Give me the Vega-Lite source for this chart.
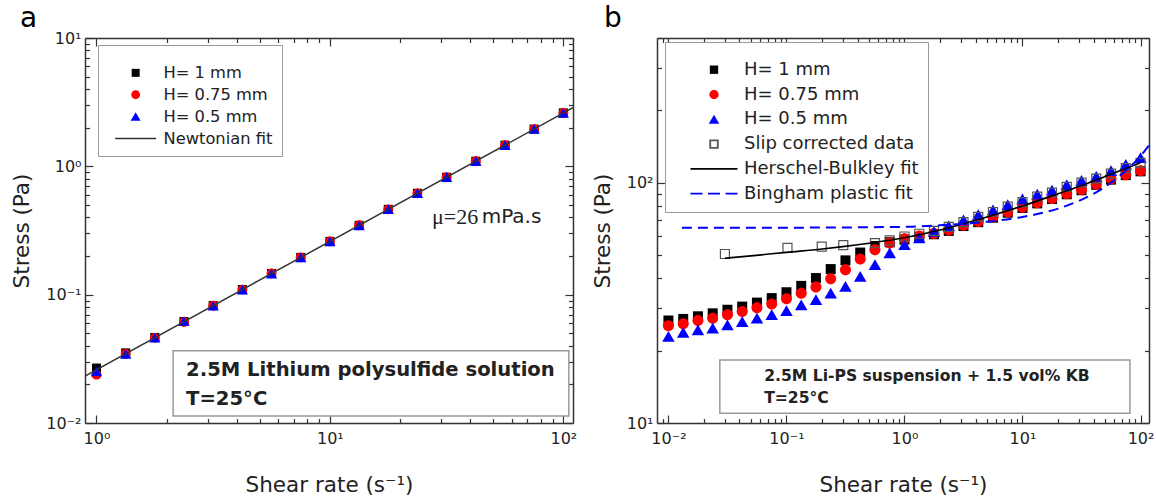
{
  "$schema": "https://vega.github.io/schema/vega-lite/v6.json",
  "padding": {"left": 11, "top": 5, "right": 0, "bottom": 0},
  "background": "white",
  "bounds": "flush",
  "spacing": 84,
  "resolve": {"scale": {"shape": "independent", "fill": "independent", "stroke": "independent", "x": "independent", "y": "independent"}, "legend": {"shape": "independent", "fill": "independent", "stroke": "independent"}},
  "config": {
    "font": "DejaVu Sans",
    "view": {"stroke": null},
    "axis": {"labelFont": "DejaVu Sans", "titleFont": "DejaVu Sans", "labelColor": "#222", "titleColor": "#222", "domainColor": "#333", "domainWidth": 1.5, "tickColor": "#333", "tickWidth": 1.2, "grid": false, "labelFlush": false, "labelOverlap": false, "titleFontWeight": "normal", "labelFontSize": 16, "titleFontSize": 21.5}
  },
  "hconcat": [
    {
      "width": 488, "height": 385,
      "resolve": {"axis": {"x": "independent", "y": "independent"}},
      "layer": [
        {
          "data": {"values": [
            {"x": 1, "y": 0.0268, "series": "H= 1 mm"}, {"x": 1.334, "y": 0.0352, "series": "H= 1 mm"}, {"x": 1.778, "y": 0.0464, "series": "H= 1 mm"}, {"x": 2.371, "y": 0.0618, "series": "H= 1 mm"}, {"x": 3.162, "y": 0.0823, "series": "H= 1 mm"}, {"x": 4.217, "y": 0.1097, "series": "H= 1 mm"}, {"x": 5.623, "y": 0.1463, "series": "H= 1 mm"}, {"x": 7.499, "y": 0.1951, "series": "H= 1 mm"}, {"x": 10, "y": 0.2602, "series": "H= 1 mm"}, {"x": 13.34, "y": 0.347, "series": "H= 1 mm"}, {"x": 17.78, "y": 0.4625, "series": "H= 1 mm"}, {"x": 23.71, "y": 0.617, "series": "H= 1 mm"}, {"x": 31.62, "y": 0.822, "series": "H= 1 mm"}, {"x": 42.17, "y": 1.097, "series": "H= 1 mm"}, {"x": 56.23, "y": 1.463, "series": "H= 1 mm"}, {"x": 74.99, "y": 1.951, "series": "H= 1 mm"}, {"x": 100, "y": 2.61, "series": "H= 1 mm"},
            {"x": 1, "y": 0.0238, "series": "H= 0.75 mm"}, {"x": 1.334, "y": 0.0345, "series": "H= 0.75 mm"}, {"x": 1.778, "y": 0.0461, "series": "H= 0.75 mm"}, {"x": 2.371, "y": 0.0612, "series": "H= 0.75 mm"}, {"x": 3.162, "y": 0.082, "series": "H= 0.75 mm"}, {"x": 4.217, "y": 0.1095, "series": "H= 0.75 mm"}, {"x": 5.623, "y": 0.146, "series": "H= 0.75 mm"}, {"x": 7.499, "y": 0.195, "series": "H= 0.75 mm"}, {"x": 10, "y": 0.26, "series": "H= 0.75 mm"}, {"x": 13.34, "y": 0.347, "series": "H= 0.75 mm"}, {"x": 17.78, "y": 0.462, "series": "H= 0.75 mm"}, {"x": 23.71, "y": 0.616, "series": "H= 0.75 mm"}, {"x": 31.62, "y": 0.822, "series": "H= 0.75 mm"}, {"x": 42.17, "y": 1.096, "series": "H= 0.75 mm"}, {"x": 56.23, "y": 1.462, "series": "H= 0.75 mm"}, {"x": 74.99, "y": 1.95, "series": "H= 0.75 mm"}, {"x": 100, "y": 2.6, "series": "H= 0.75 mm"},
            {"x": 1, "y": 0.0252, "series": "H= 0.5 mm"}, {"x": 1.334, "y": 0.0344, "series": "H= 0.5 mm"}, {"x": 1.778, "y": 0.0461, "series": "H= 0.5 mm"}, {"x": 2.371, "y": 0.0622, "series": "H= 0.5 mm"}, {"x": 3.162, "y": 0.0818, "series": "H= 0.5 mm"}, {"x": 4.217, "y": 0.1092, "series": "H= 0.5 mm"}, {"x": 5.623, "y": 0.1458, "series": "H= 0.5 mm"}, {"x": 7.499, "y": 0.1948, "series": "H= 0.5 mm"}, {"x": 10, "y": 0.2598, "series": "H= 0.5 mm"}, {"x": 13.34, "y": 0.3465, "series": "H= 0.5 mm"}, {"x": 17.78, "y": 0.4618, "series": "H= 0.5 mm"}, {"x": 23.71, "y": 0.6165, "series": "H= 0.5 mm"}, {"x": 31.62, "y": 0.8215, "series": "H= 0.5 mm"}, {"x": 42.17, "y": 1.095, "series": "H= 0.5 mm"}, {"x": 56.23, "y": 1.461, "series": "H= 0.5 mm"}, {"x": 74.99, "y": 1.949, "series": "H= 0.5 mm"}, {"x": 100, "y": 2.6, "series": "H= 0.5 mm"}
          ]},
          "mark": {"type": "point", "filled": true, "size": 81, "opacity": 1, "strokeWidth": 1.2},
          "encoding": {
            "x": {"field": "x", "type": "quantitative", "scale": {"type": "log", "domain": [0.893, 110], "nice": false},
              "axis": {"orient": "bottom", "values": [1,2,3,4,5,6,7,8,9,10,20,30,40,50,60,70,80,90,100],
                "labelExpr": "datum.value == 1 ? '10⁰' : datum.value == 10 ? '10¹' : datum.value == 100 ? '10²' : ''",
                "tickSize": {"condition": {"test": "indexof([1,10,100], datum.value) >= 0", "value": -8}, "value": -4.5},
                "labelPadding": 15, "title": "Shear rate (s⁻¹)", "titlePadding": 25}},
            "y": {"field": "y", "type": "quantitative", "scale": {"type": "log", "domain": [0.01, 10], "nice": false},
              "axis": {"orient": "left", "values": [0.01,0.02,0.03,0.04,0.05,0.06,0.07,0.08,0.09,0.1,0.2,0.3,0.4,0.5,0.6,0.7,0.8,0.9,1,2,3,4,5,6,7,8,9,10],
                "labelExpr": "datum.value == 0.01 ? '10⁻²' : datum.value == 0.1 ? '10⁻¹' : datum.value == 1 ? '10⁰' : datum.value == 10 ? '10¹' : ''",
                "tickSize": {"condition": {"test": "indexof([0.01,0.1,1,10], datum.value) >= 0", "value": -8}, "value": -4.5},
                "labelPadding": 12, "title": "Stress (Pa)", "titlePadding": 12}},
            "shape": {"field": "series", "type": "nominal",
              "scale": {"domain": ["H= 1 mm", "H= 0.75 mm", "H= 0.5 mm", "Newtonian fit"], "range": ["square", "M1.1,0A1.1,1.1,0,1,1,-1.1,0A1.1,1.1,0,1,1,1.1,0Z", "M0,-1.1L1.25,1.05L-1.25,1.05Z", "M-5.12,0H5.12"]},
              "legend": {"orient": "none", "legendX": 13, "legendY": 7, "title": " ", "titleFontSize": 2, "titlePadding": 8.7,
                "strokeColor": "#999", "fillColor": "white", "padding": 9, "labelFontSize": 16.3, "labelColor": "#222", "labelFont": "DejaVu Sans", "labelLimit": 400,
                "symbolSize": 64, "symbolOffset": 20.5, "labelOffset": 19.7, "rowPadding": 4.9, "symbolStrokeWidth": 1.5,
                "encode": {"symbols": {"update": {
                  "fill": {"value": {"expr": "datum.value === 'H= 1 mm' ? '#000' : datum.value === 'H= 0.75 mm' ? '#f00' : datum.value === 'H= 0.5 mm' ? '#00f' : 'transparent'"}},
                  "stroke": {"value": {"expr": "datum.value === 'Newtonian fit' ? '#333' : 'transparent'"}},
                  "opacity": {"value": 1}
                }}}}},
            "fill": {"field": "series", "type": "nominal", "scale": {"domain": ["H= 1 mm", "H= 0.75 mm", "H= 0.5 mm", "Newtonian fit"], "range": ["#000000", "#ff0000", "#0000ff", "transparent"]}, "legend": null},
            "stroke": {"field": "series", "type": "nominal", "scale": {"domain": ["H= 1 mm", "H= 0.75 mm", "H= 0.5 mm", "Newtonian fit"], "range": ["transparent", "transparent", "transparent", "#333333"]}, "legend": null}
          }
        },
        {
          "data": {"values": [{"x": 0.893, "y": 0.0232}, {"x": 110, "y": 2.86}]},
          "mark": {"type": "line", "color": "#333", "strokeWidth": 1.5, "clip": true},
          "encoding": {
            "x": {"field": "x", "type": "quantitative", "scale": {"type": "log", "domain": [0.893, 110], "nice": false},
              "axis": {"orient": "top", "values": [1,2,3,4,5,6,7,8,9,10,20,30,40,50,60,70,80,90,100], "labels": false, "title": null,
                "tickSize": {"condition": {"test": "indexof([1,10,100], datum.value) >= 0", "value": -8}, "value": -4.5}}},
            "y": {"field": "y", "type": "quantitative", "scale": {"type": "log", "domain": [0.01, 10], "nice": false},
              "axis": {"orient": "right", "values": [0.01,0.02,0.03,0.04,0.05,0.06,0.07,0.08,0.09,0.1,0.2,0.3,0.4,0.5,0.6,0.7,0.8,0.9,1,2,3,4,5,6,7,8,9,10], "labels": false, "title": null,
                "tickSize": {"condition": {"test": "indexof([0.01,0.1,1,10], datum.value) >= 0", "value": -8}, "value": -4.5}}}
          }
        },
        {
          "data": {"values": [{}]},
          "mark": {"type": "rect", "fill": "white", "stroke": "#999", "strokeWidth": 1.5},
          "encoding": {
            "x": {"datum": 2.13, "type": "quantitative", "axis": null}, "x2": {"datum": 105.6},
            "y": {"datum": 0.0365, "type": "quantitative", "axis": null}, "y2": {"datum": 0.01135}
          }
        },
        {
          "data": {"values": [{"t": "2.5M Lithium polysulfide solution"}]},
          "mark": {"type": "text", "align": "left", "baseline": "middle", "fontSize": 19.6, "fontWeight": "bold", "color": "#222"},
          "encoding": {"x": {"datum": 2.42, "type": "quantitative", "axis": null}, "y": {"datum": 0.02594, "type": "quantitative", "axis": null}, "text": {"field": "t"}}
        },
        {
          "data": {"values": [{"t": "T=25°C"}]},
          "mark": {"type": "text", "align": "left", "baseline": "middle", "fontSize": 19.6, "fontWeight": "bold", "color": "#222"},
          "encoding": {"x": {"datum": 2.42, "type": "quantitative", "axis": null}, "y": {"datum": 0.0154, "type": "quantitative", "axis": null}, "text": {"field": "t"}}
        },
        {
          "data": {"values": [{"t": "μ=26"}]},
          "mark": {"type": "text", "align": "right", "baseline": "middle", "fontSize": 22, "font": "Liberation Serif", "color": "#222"},
          "encoding": {"x": {"datum": 43.2, "type": "quantitative", "axis": null}, "y": {"datum": 0.4, "type": "quantitative", "axis": null}, "text": {"field": "t"}}
        },
        {
          "data": {"values": [{"t": "mPa.s"}]},
          "mark": {"type": "text", "align": "left", "baseline": "middle", "fontSize": 20, "color": "#222"},
          "encoding": {"x": {"datum": 44.7, "type": "quantitative", "axis": null}, "y": {"datum": 0.4, "type": "quantitative", "axis": null}, "text": {"field": "t"}}
        },
        {
          "data": {"values": [{"t": "a"}]},
          "mark": {"type": "text", "align": "left", "baseline": "alphabetic", "fontSize": 28, "color": "#000"},
          "encoding": {"x": {"datum": 0.4701, "type": "quantitative", "axis": null}, "y": {"datum": 12.18, "type": "quantitative", "axis": null}, "text": {"field": "t"}}
        }
      ]
    },
    {
      "width": 492, "height": 385,
      "resolve": {"axis": {"x": "independent", "y": "independent"}},
      "layer": [
        {
          "data": {"values": [
            {"x": 0.01, "y": 26.7, "series": "H= 1 mm"}, {"x": 0.01334, "y": 27.1, "series": "H= 1 mm"}, {"x": 0.01778, "y": 27.8, "series": "H= 1 mm"}, {"x": 0.02371, "y": 28.6, "series": "H= 1 mm"}, {"x": 0.03162, "y": 29.6, "series": "H= 1 mm"}, {"x": 0.04217, "y": 30.5, "series": "H= 1 mm"}, {"x": 0.05623, "y": 31.7, "series": "H= 1 mm"}, {"x": 0.07499, "y": 33.1, "series": "H= 1 mm"}, {"x": 0.1, "y": 35.0, "series": "H= 1 mm"}, {"x": 0.1334, "y": 37.2, "series": "H= 1 mm"}, {"x": 0.1778, "y": 40.1, "series": "H= 1 mm"}, {"x": 0.2371, "y": 43.7, "series": "H= 1 mm"}, {"x": 0.3162, "y": 47.5, "series": "H= 1 mm"}, {"x": 0.4217, "y": 51.2, "series": "H= 1 mm"}, {"x": 0.5623, "y": 54.5, "series": "H= 1 mm"}, {"x": 0.7499, "y": 56.5, "series": "H= 1 mm"}, {"x": 1, "y": 58, "series": "H= 1 mm"}, {"x": 1.334, "y": 59.5, "series": "H= 1 mm"}, {"x": 1.778, "y": 61, "series": "H= 1 mm"}, {"x": 2.371, "y": 63, "series": "H= 1 mm"}, {"x": 3.162, "y": 66, "series": "H= 1 mm"}, {"x": 4.217, "y": 68.5, "series": "H= 1 mm"}, {"x": 5.623, "y": 71.5, "series": "H= 1 mm"}, {"x": 7.499, "y": 75, "series": "H= 1 mm"}, {"x": 10, "y": 78.5, "series": "H= 1 mm"}, {"x": 13.34, "y": 82, "series": "H= 1 mm"}, {"x": 17.78, "y": 85.5, "series": "H= 1 mm"}, {"x": 23.71, "y": 89.5, "series": "H= 1 mm"}, {"x": 31.62, "y": 93, "series": "H= 1 mm"}, {"x": 42.17, "y": 98, "series": "H= 1 mm"}, {"x": 56.23, "y": 103, "series": "H= 1 mm"}, {"x": 74.99, "y": 107.5, "series": "H= 1 mm"}, {"x": 100, "y": 111.5, "series": "H= 1 mm"},
            {"x": 0.01, "y": 25.4, "series": "H= 0.75 mm"}, {"x": 0.01334, "y": 25.9, "series": "H= 0.75 mm"}, {"x": 0.01778, "y": 26.7, "series": "H= 0.75 mm"}, {"x": 0.02371, "y": 27.3, "series": "H= 0.75 mm"}, {"x": 0.03162, "y": 28.2, "series": "H= 0.75 mm"}, {"x": 0.04217, "y": 29.1, "series": "H= 0.75 mm"}, {"x": 0.05623, "y": 30.2, "series": "H= 0.75 mm"}, {"x": 0.07499, "y": 31.3, "series": "H= 0.75 mm"}, {"x": 0.1, "y": 32.9, "series": "H= 0.75 mm"}, {"x": 0.1334, "y": 34.7, "series": "H= 0.75 mm"}, {"x": 0.1778, "y": 36.8, "series": "H= 0.75 mm"}, {"x": 0.2371, "y": 39.8, "series": "H= 0.75 mm"}, {"x": 0.3162, "y": 43.4, "series": "H= 0.75 mm"}, {"x": 0.4217, "y": 48.1, "series": "H= 0.75 mm"}, {"x": 0.5623, "y": 52.6, "series": "H= 0.75 mm"}, {"x": 0.7499, "y": 56.1, "series": "H= 0.75 mm"}, {"x": 1, "y": 58.5, "series": "H= 0.75 mm"}, {"x": 1.334, "y": 60, "series": "H= 0.75 mm"}, {"x": 1.778, "y": 61.5, "series": "H= 0.75 mm"}, {"x": 2.371, "y": 63.5, "series": "H= 0.75 mm"}, {"x": 3.162, "y": 66.5, "series": "H= 0.75 mm"}, {"x": 4.217, "y": 69, "series": "H= 0.75 mm"}, {"x": 5.623, "y": 72, "series": "H= 0.75 mm"}, {"x": 7.499, "y": 75.5, "series": "H= 0.75 mm"}, {"x": 10, "y": 79, "series": "H= 0.75 mm"}, {"x": 13.34, "y": 82.5, "series": "H= 0.75 mm"}, {"x": 17.78, "y": 86, "series": "H= 0.75 mm"}, {"x": 23.71, "y": 90, "series": "H= 0.75 mm"}, {"x": 31.62, "y": 93.5, "series": "H= 0.75 mm"}, {"x": 42.17, "y": 98.5, "series": "H= 0.75 mm"}, {"x": 56.23, "y": 103.5, "series": "H= 0.75 mm"}, {"x": 74.99, "y": 108, "series": "H= 0.75 mm"}, {"x": 100, "y": 112, "series": "H= 0.75 mm"},
            {"x": 0.01, "y": 22.9, "series": "H= 0.5 mm"}, {"x": 0.01334, "y": 23.8, "series": "H= 0.5 mm"}, {"x": 0.01778, "y": 24.4, "series": "H= 0.5 mm"}, {"x": 0.02371, "y": 24.8, "series": "H= 0.5 mm"}, {"x": 0.03162, "y": 25.6, "series": "H= 0.5 mm"}, {"x": 0.04217, "y": 26.4, "series": "H= 0.5 mm"}, {"x": 0.05623, "y": 27.3, "series": "H= 0.5 mm"}, {"x": 0.07499, "y": 28.2, "series": "H= 0.5 mm"}, {"x": 0.1, "y": 29.3, "series": "H= 0.5 mm"}, {"x": 0.1334, "y": 31.0, "series": "H= 0.5 mm"}, {"x": 0.1778, "y": 32.6, "series": "H= 0.5 mm"}, {"x": 0.2371, "y": 34.7, "series": "H= 0.5 mm"}, {"x": 0.3162, "y": 37.0, "series": "H= 0.5 mm"}, {"x": 0.4217, "y": 40.7, "series": "H= 0.5 mm"}, {"x": 0.5623, "y": 45.5, "series": "H= 0.5 mm"}, {"x": 0.7499, "y": 51.0, "series": "H= 0.5 mm"}, {"x": 1, "y": 55.2, "series": "H= 0.5 mm"}, {"x": 1.334, "y": 58.8, "series": "H= 0.5 mm"}, {"x": 1.778, "y": 62.7, "series": "H= 0.5 mm"}, {"x": 2.371, "y": 66, "series": "H= 0.5 mm"}, {"x": 3.162, "y": 70, "series": "H= 0.5 mm"}, {"x": 4.217, "y": 73.5, "series": "H= 0.5 mm"}, {"x": 5.623, "y": 77, "series": "H= 0.5 mm"}, {"x": 7.499, "y": 81, "series": "H= 0.5 mm"}, {"x": 10, "y": 85.5, "series": "H= 0.5 mm"}, {"x": 13.34, "y": 89.5, "series": "H= 0.5 mm"}, {"x": 17.78, "y": 93, "series": "H= 0.5 mm"}, {"x": 23.71, "y": 98, "series": "H= 0.5 mm"}, {"x": 31.62, "y": 102, "series": "H= 0.5 mm"}, {"x": 42.17, "y": 106, "series": "H= 0.5 mm"}, {"x": 56.23, "y": 112, "series": "H= 0.5 mm"}, {"x": 74.99, "y": 119, "series": "H= 0.5 mm"}, {"x": 100, "y": 127, "series": "H= 0.5 mm"},
            {"x": 0.0301, "y": 50.5, "series": "Slip corrected data"}, {"x": 0.102, "y": 53.5, "series": "Slip corrected data"}, {"x": 0.199, "y": 54.2, "series": "Slip corrected data"}, {"x": 0.303, "y": 55.0, "series": "Slip corrected data"}, {"x": 0.5623, "y": 56, "series": "Slip corrected data"}, {"x": 0.7499, "y": 57.5, "series": "Slip corrected data"}, {"x": 1, "y": 59.7, "series": "Slip corrected data"}, {"x": 1.334, "y": 61.3, "series": "Slip corrected data"}, {"x": 1.778, "y": 63, "series": "Slip corrected data"}, {"x": 2.371, "y": 65.5, "series": "Slip corrected data"}, {"x": 3.162, "y": 68.5, "series": "Slip corrected data"}, {"x": 4.217, "y": 72, "series": "Slip corrected data"}, {"x": 5.623, "y": 75.5, "series": "Slip corrected data"}, {"x": 7.499, "y": 79.5, "series": "Slip corrected data"}, {"x": 10, "y": 83, "series": "Slip corrected data"}, {"x": 13.34, "y": 87.5, "series": "Slip corrected data"}, {"x": 17.78, "y": 91, "series": "Slip corrected data"}, {"x": 23.71, "y": 96, "series": "Slip corrected data"}, {"x": 31.62, "y": 100, "series": "Slip corrected data"}, {"x": 42.17, "y": 104, "series": "Slip corrected data"}, {"x": 56.23, "y": 109, "series": "Slip corrected data"}, {"x": 74.99, "y": 115, "series": "Slip corrected data"}, {"x": 100, "y": 121, "series": "Slip corrected data"}
          ]},
          "mark": {"type": "point", "filled": true, "size": 100, "opacity": 1, "strokeWidth": 1.2},
          "encoding": {
            "x": {"field": "x", "type": "quantitative", "scale": {"type": "log", "domain": [0.008, 118], "nice": false},
              "axis": {"orient": "bottom", "values": [0.009,0.01,0.02,0.03,0.04,0.05,0.06,0.07,0.08,0.09,0.1,0.2,0.3,0.4,0.5,0.6,0.7,0.8,0.9,1,2,3,4,5,6,7,8,9,10,20,30,40,50,60,70,80,90,100],
                "labelExpr": "datum.value == 0.01 ? '10⁻²' : datum.value == 0.1 ? '10⁻¹' : datum.value == 1 ? '10⁰' : datum.value == 10 ? '10¹' : datum.value == 100 ? '10²' : ''",
                "tickSize": {"condition": {"test": "indexof([0.01,0.1,1,10,100], datum.value) >= 0", "value": -8}, "value": -4.5},
                "labelPadding": 15, "title": "Shear rate (s⁻¹)", "titlePadding": 25}},
            "y": {"field": "y", "type": "quantitative", "scale": {"type": "log", "domain": [10, 400], "nice": false},
              "axis": {"orient": "left", "values": [10,20,30,40,50,60,70,80,90,100,200,300,400],
                "labelExpr": "datum.value == 10 ? '10¹' : datum.value == 100 ? '10²' : ''",
                "tickSize": {"condition": {"test": "indexof([10,100], datum.value) >= 0", "value": -8}, "value": -4.5},
                "labelPadding": 12, "title": "Stress (Pa)", "titlePadding": 12}},
            "shape": {"field": "series", "type": "nominal",
              "scale": {"domain": ["H= 1 mm", "H= 0.75 mm", "H= 0.5 mm", "Slip corrected data", "Herschel-Bulkley fit", "Bingham plastic fit"], "range": ["square", "M1.1,0A1.1,1.1,0,1,1,-1.1,0A1.1,1.1,0,1,1,1.1,0Z", "M0,-1.1L1.25,1.05L-1.25,1.05Z", "M-0.9,-0.9H0.9V0.9H-0.9Z", "M-5.62,0H5.62", "M-5.62,0H-2.75M-1.43,0H1.44M2.76,0H5.62"]},
              "legend": {"orient": "none", "legendX": 8, "legendY": 4, "title": " ", "titleFontSize": 2, "titlePadding": 7.7,
                "strokeColor": "#999", "fillColor": "white", "padding": 9, "labelFontSize": 18, "labelColor": "#222", "labelFont": "DejaVu Sans", "labelLimit": 400,
                "symbolSize": 70, "symbolOffset": 31, "labelOffset": 21, "rowPadding": 6.8, "symbolStrokeWidth": 1.8,
                "encode": {"symbols": {"update": {
                  "fill": {"value": {"expr": "datum.value === 'H= 1 mm' ? '#000' : datum.value === 'H= 0.75 mm' ? '#f00' : datum.value === 'H= 0.5 mm' ? '#00f' : 'transparent'"}},
                  "stroke": {"value": {"expr": "datum.value === 'Slip corrected data' ? '#555' : datum.value === 'Herschel-Bulkley fit' ? '#000' : datum.value === 'Bingham plastic fit' ? '#00f' : 'transparent'"}},
                  "opacity": {"value": 1}
                }}}}},
            "fill": {"field": "series", "type": "nominal", "scale": {"domain": ["H= 1 mm", "H= 0.75 mm", "H= 0.5 mm", "Slip corrected data", "Herschel-Bulkley fit", "Bingham plastic fit"], "range": ["#000000", "#ff0000", "#0000ff", "transparent", "transparent", "transparent"]}, "legend": null},
            "stroke": {"field": "series", "type": "nominal", "scale": {"domain": ["H= 1 mm", "H= 0.75 mm", "H= 0.5 mm", "Slip corrected data", "Herschel-Bulkley fit", "Bingham plastic fit"], "range": ["transparent", "transparent", "transparent", "#555555", "#000000", "#0000ff"]}, "legend": null}
          }
        },
        {
          "data": {"values": [{"x": 0.03, "y": 48.5}, {"x": 0.05, "y": 49.6}, {"x": 0.1, "y": 51.3}, {"x": 0.2, "y": 53}, {"x": 0.3, "y": 54.2}, {"x": 0.5, "y": 56}, {"x": 1, "y": 59}, {"x": 2, "y": 63.5}, {"x": 3, "y": 67}, {"x": 5, "y": 72}, {"x": 10, "y": 80}, {"x": 20, "y": 90}, {"x": 30, "y": 96.5}, {"x": 50, "y": 106}, {"x": 100, "y": 121}]},
          "mark": {"type": "line", "color": "#000", "strokeWidth": 1.6, "interpolate": "monotone", "clip": true},
          "encoding": {
            "x": {"field": "x", "type": "quantitative", "scale": {"type": "log", "domain": [0.008, 118], "nice": false},
              "axis": {"orient": "top", "values": [0.009,0.01,0.02,0.03,0.04,0.05,0.06,0.07,0.08,0.09,0.1,0.2,0.3,0.4,0.5,0.6,0.7,0.8,0.9,1,2,3,4,5,6,7,8,9,10,20,30,40,50,60,70,80,90,100], "labels": false, "title": null,
                "tickSize": {"condition": {"test": "indexof([0.01,0.1,1,10,100], datum.value) >= 0", "value": -8}, "value": -4.5}}},
            "y": {"field": "y", "type": "quantitative", "scale": {"type": "log", "domain": [10, 400], "nice": false},
              "axis": {"orient": "right", "values": [10,20,30,40,50,60,70,80,90,100,200,300,400], "labels": false, "title": null,
                "tickSize": {"condition": {"test": "indexof([10,100], datum.value) >= 0", "value": -8}, "value": -4.5}}}
          }
        },
        {
          "data": {"values": [{"x": 0.013, "y": 65}, {"x": 0.1, "y": 65}, {"x": 1, "y": 65.5}, {"x": 2, "y": 66.5}, {"x": 3, "y": 67.3}, {"x": 5, "y": 68.8}, {"x": 10, "y": 72}, {"x": 20, "y": 78}, {"x": 30, "y": 84}, {"x": 50, "y": 96}, {"x": 70, "y": 109}, {"x": 100, "y": 129}, {"x": 118, "y": 143}]},
          "mark": {"type": "line", "color": "#0000ff", "strokeWidth": 2, "strokeDash": [10, 6], "interpolate": "monotone", "clip": true},
          "encoding": {
            "x": {"field": "x", "type": "quantitative", "scale": {"type": "log", "domain": [0.008, 118], "nice": false}, "axis": null},
            "y": {"field": "y", "type": "quantitative", "scale": {"type": "log", "domain": [10, 400], "nice": false}, "axis": null}
          }
        },
        {
          "data": {"values": [{}]},
          "mark": {"type": "rect", "fill": "white", "stroke": "#999", "strokeWidth": 1.5},
          "encoding": {
            "x": {"datum": 0.02726, "type": "quantitative", "axis": null}, "x2": {"datum": 81.3},
            "y": {"datum": 18.3, "type": "quantitative", "axis": null}, "y2": {"datum": 10.97}
          }
        },
        {
          "data": {"values": [{"t": "2.5M Li-PS suspension + 1.5 vol% KB"}]},
          "mark": {"type": "text", "align": "left", "baseline": "middle", "fontSize": 15.6, "fontWeight": "bold", "color": "#222"},
          "encoding": {"x": {"datum": 0.0647, "type": "quantitative", "axis": null}, "y": {"datum": 15.74, "type": "quantitative", "axis": null}, "text": {"field": "t"}}
        },
        {
          "data": {"values": [{"t": "T=25°C"}]},
          "mark": {"type": "text", "align": "left", "baseline": "middle", "fontSize": 15.6, "fontWeight": "bold", "color": "#222"},
          "encoding": {"x": {"datum": 0.0647, "type": "quantitative", "axis": null}, "y": {"datum": 12.67, "type": "quantitative", "axis": null}, "text": {"field": "t"}}
        },
        {
          "data": {"values": [{"t": "b"}]},
          "mark": {"type": "text", "align": "left", "baseline": "alphabetic", "fontSize": 28, "color": "#000"},
          "encoding": {"x": {"datum": 0.002845, "type": "quantitative", "axis": null}, "y": {"datum": 444.4, "type": "quantitative", "axis": null}, "text": {"field": "t"}}
        }
      ]
    }
  ]
}
